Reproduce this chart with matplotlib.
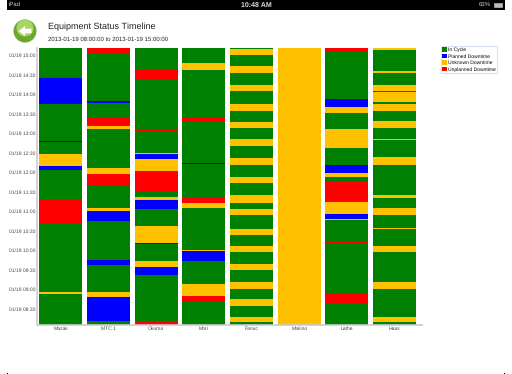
import matplotlib
matplotlib.use('Agg')
import matplotlib.pyplot as plt
from matplotlib.patches import Circle, Rectangle, Polygon, Patch

plt.rcParams['font.family'] = ['Liberation Sans', 'DejaVu Sans']
plt.rcParams['text.hinting'] = 'no_hinting'
plt.rcParams['text.hinting_factor'] = 1

machines = ['Mazak', 'MTC 1', 'Okuma', 'Mori', 'Fanuc', 'Makino', 'Lathe', 'Haas']

# minutes after 08:00, from the top of each column down
# G = in cycle, B = planned, Y = unknown, R = unplanned
mazak_states = 'GBGBGYBGRGRYG'
mazak_times = [386, 345, 289, 286, 268, 250, 244, 199, 160, 58, 56, 53, 5]
mtc_states = 'RGBGRYGYRGYBGBGYBG'
mtc_times = [424, 350, 347, 324, 312, 307, 246, 237, 220, 185, 181, 165, 105, 98, 56, 48, 11, 5]
okuma_states = 'GRGRGYBYRGYBGYBGYBGR'
okuma_times = [398, 384, 305, 302, 270, 268, 260, 242, 210, 202, 197, 184, 158, 131, 129, 104, 94, 82, 11, 5]
mori_states = 'GYGRGBGRYGYBGYRG'
mori_times = [408, 398, 324, 319, 255, 253, 201, 193, 185, 121, 119, 104, 68, 50, 42, 5]
fanuc_states = 'GYGYGYGYGYGYGYGYGYGYGYGYGYGYGYGYG'
fanuc_times = [430, 421, 404, 393, 375, 365, 346, 334, 318, 309, 292, 281, 262, 252, 233, 223, 205, 193,
               184, 174, 153, 143, 127, 117, 99, 89, 71, 60, 45, 35, 18, 9, 5]
makino_states = 'Y'
makino_times = [5]
lathe_states = 'RGBYGYGBYGRYBYGRGRG'
lathe_times = [426, 353, 341, 331, 306, 278, 252, 239, 233, 226, 194, 176, 168, 166, 133, 130, 53, 38, 5]
haas_states = 'YGYGYGYGYGYGYGYGYGYGYGYGYGYG'
haas_times = [428, 396, 393, 375, 365, 363, 348, 346, 335, 319, 309, 292, 290, 263, 252, 205, 201, 185,
              174, 154.5, 153.5, 127, 117, 71, 60, 18, 9, 5]

state_names = ['In Cycle', 'Planned Downtime', 'Unknown Downtime', 'Unplanned Downtime']
state_codes = ['G', 'B', 'Y', 'R']
state_colors = ['#008000', '#0000ff', '#ffc000', '#ff0000']
color_of = dict(zip(state_codes, state_colors))

tick_minutes = [30 * i for i in range(1, 15)]
tick_labels = ['01/19 %02d:%02d' % (8 + m // 60, m % 60) for m in tick_minutes]

all_states = [mazak_states, mtc_states, okuma_states, mori_states, fanuc_states, makino_states, lathe_states, haas_states]
all_times = [mazak_times, mtc_times, okuma_times, mori_times, fanuc_times, makino_times, lathe_times, haas_times]

W, H = 512, 374
fig = plt.figure(figsize=(5.12, 3.74), dpi=100, facecolor='white')
ax = fig.add_axes([37 / W, 1 - 325 / H, (422 - 37) / W, (325 - 48.3) / H])

top_time = 431
for i in range(len(machines)):
    upper = top_time
    for state, lower in zip(all_states[i], all_times[i]):
        ax.bar(i, upper - lower, bottom=lower, width=0.9, color=color_of[state], linewidth=0)
        upper = lower

ax.set_xlim(-0.497, 7.574)
ax.set_ylim(5, top_time)
ax.set_xticks(range(len(machines)))
ax.set_xticklabels(machines, fontsize=3.85, color='#444444')
ax.set_yticks(tick_minutes)
ax.set_yticklabels(tick_labels, fontsize=3.85, color='#444444')
ax.tick_params(length=0, pad=1.0)
for side in ['top', 'right']:
    ax.spines[side].set_visible(False)
for side in ['left', 'bottom']:
    ax.spines[side].set_color('#cccccc')
    ax.spines[side].set_linewidth(1.2)

handles = [Patch(facecolor=c, label=n) for c, n in zip(state_colors, state_names)]
leg = fig.legend(handles=handles, loc='upper left', bbox_to_anchor=(441 / W, 1 - 46 / H), fontsize=3.5,
                 frameon=True, fancybox=False, edgecolor='#ccd9f5', borderpad=0.3, labelspacing=0.32,
                 handlelength=1.0, handleheight=1.0, handletextpad=0.15, borderaxespad=0)
leg.get_frame().set_linewidth(0.8)

# page furniture drawn in pixel coordinates
over = fig.add_axes([0, 0, 1, 1], zorder=5)
over.set_xlim(0, W)
over.set_ylim(H, 0)
over.axis('off')
over.patch.set_alpha(0)
over.add_patch(Rectangle((7, 0), 498, 9.5, color='black', linewidth=0))
over.add_patch(Rectangle((7, 372.5), 1, 1.5, color='black', linewidth=0))
over.add_patch(Rectangle((504, 372.5), 1, 1.5, color='black', linewidth=0))
over.text(9, 4.8, 'iPad', color='#cccccc', fontsize=4.5, va='center')
over.text(256, 4.8, '10:48 AM', color='#dddddd', fontsize=4.8, ha='center', va='center', fontweight='bold')
over.text(479, 4.8, '63%', color='#cccccc', fontsize=4.5, va='center')
over.add_patch(Rectangle((494, 2.8), 8, 4, facecolor='#bbbbbb', edgecolor='#cccccc', linewidth=0.4))

over.add_patch(Circle((25, 31), 11.5, color='#6aa82e', linewidth=0))
over.add_patch(Circle((25, 28), 8.5, color='#a8d468', linewidth=0))
over.add_patch(Polygon([(18.5, 31), (25, 26), (25, 28.7), (31.5, 28.7), (31.5, 33.3), (25, 33.3), (25, 36)],
                       color='white', linewidth=0))

over.text(47.5, 27, 'Equipment Status Timeline', fontsize=6.5, color='#222222', va='center')
over.text(47.5, 39.3, '2013-01-19 08:00:00 to 2013-01-19 15:00:00', fontsize=4.35, color='#222222', va='center')

fig.savefig('out.png', dpi=100)
